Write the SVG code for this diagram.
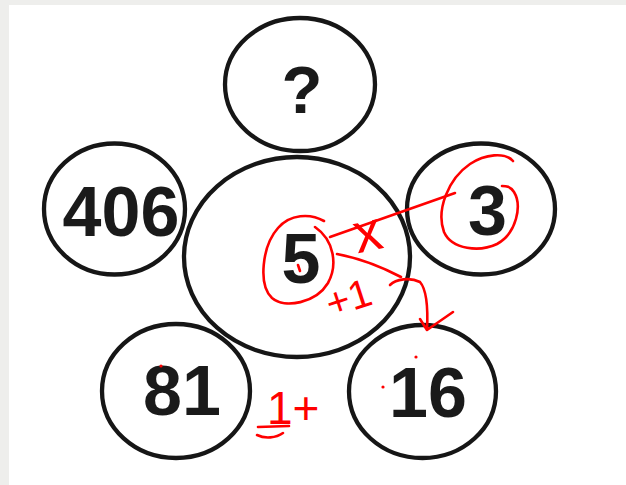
<svg xmlns="http://www.w3.org/2000/svg" width="626" height="485" viewBox="0 0 626 485">
<style>
.c{fill:none;stroke:#161616;stroke-width:4.3}
.t{font-family:"Liberation Sans",Arial,sans-serif;font-weight:bold;fill:#1a1a1a;text-anchor:middle}
.r{fill:none;stroke:#f00;stroke-width:2.6;stroke-linecap:round;stroke-linejoin:round}
.h{font-family:"Liberation Sans",Arial,sans-serif;fill:#f00}
</style>
<rect width="626" height="485" fill="#eeeeec"/>
<rect x="9" y="5" width="617" height="480" fill="#fff"/>
<g id="center">
<ellipse class="c" cx="297" cy="257" rx="113" ry="100"/>
<text class="t" x="301" y="283" font-size="70">5</text>
</g>
<g id="top">
<ellipse class="c" cx="300" cy="84.5" rx="75" ry="66.5"/>
<text class="t" x="302" y="113" font-size="67">?</text>
</g>
<g id="left">
<ellipse class="c" cx="114.5" cy="209" rx="70.5" ry="65.5"/>
<text class="t" x="121" y="236" font-size="70">406</text>
</g>
<g id="right">
<ellipse class="c" cx="481" cy="209" rx="74" ry="65.5"/>
<text class="t" x="487.5" y="235" font-size="70">3</text>
</g>
<g id="bottomleft">
<ellipse class="c" cx="176" cy="391" rx="74" ry="67"/>
<text class="t" x="182" y="415" font-size="70">81</text>
</g>
<g id="bottomright">
<ellipse class="c" cx="422.5" cy="391.5" rx="73.5" ry="66.5"/>
<text class="t" x="428" y="417" font-size="70">16</text>
</g>
<g id="annotations">
<path class="r" d="M324,221 C310,213 290,214 278,228 C262,246 258,285 272,298 C285,309 316,303 328,283 C338,265 334,240 315,227"/>
<path class="r" d="M513,161 C505,152 485,154 470,164 C448,179 436,210 444,232 C452,250 480,252 497,244 C517,233 522,205 514,192 C510,186 506,186 502,186"/>
<path class="r" d="M330,237 L455,193"/>
<path class="r" d="M337,254 C358,258 380,266 401,277"/>
<path class="r" d="M390,285 C396,279 410,277 420,282 C427,290 428,310 427,330 M420,319 L427,330 L453,312"/>
<path class="r" d="M258,427 L289,426 M257,435 C265,439 276,438 283,433"/>
<text class="h" x="368" y="251" font-size="56" text-anchor="middle" transform="rotate(-12 368 236)">x</text>
<text class="h" x="331" y="318" font-size="40" transform="rotate(-18 331 318)">+1</text>
<text class="h" x="267" y="424" font-size="46">1+</text>
<circle cx="161" cy="366" r="1.6" fill="#f00"/>
<circle cx="416" cy="357" r="1.6" fill="#f00"/>
<circle cx="383" cy="387" r="1.6" fill="#f00"/>
<path class="r" d="M298,265 L300,271" stroke-width="1.4"/>
</g>
</svg>
